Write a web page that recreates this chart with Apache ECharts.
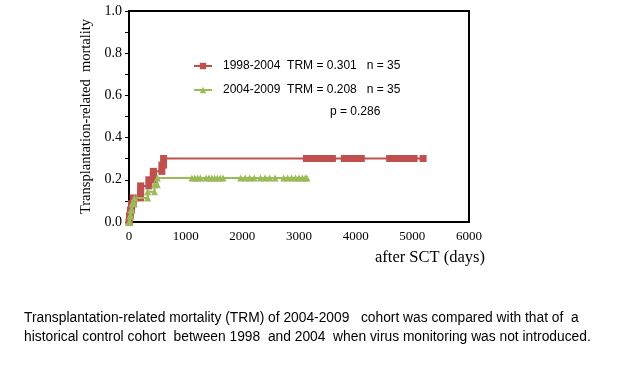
<!DOCTYPE html>
<html>
<head>
<meta charset="utf-8">
<script src="https://cdn.jsdelivr.net/npm/echarts@6/dist/echarts.min.js"></script>
<style>
html,body{margin:0;padding:0;background:#fff;}
#chart{width:636px;height:371px;}
</style>
</head>
<body>
<div id="chart"></div>
<script>
// ---- data ----
var seriesNames = ['1998-2004  TRM = 0.301   n = 35', '2004-2009  TRM = 0.208   n = 35'];
// red cohort: event days and cumulative TRM after each event
var redEventDays   = [8, 25, 45, 75, 205, 205, 350, 430, 430, 580, 610];
var redEventLevels = [0.029, 0.057, 0.086, 0.114, 0.143, 0.171, 0.200, 0.220, 0.240, 0.270, 0.301];
var redCensorDays  = [3130, 3180, 3230, 3280, 3330, 3380, 3430, 3480, 3530, 3590,
                      3800, 3860, 3920, 3990, 4050, 4100,
                      4600, 4670, 4740, 4810, 4870, 4920, 5030, 5190];
// green cohort
var greenEventDays   = [15, 35, 55, 95, 330, 450, 500];
var greenEventLevels = [0.029, 0.057, 0.086, 0.114, 0.143, 0.176, 0.208];
var greenCensorDays  = [1110, 1160, 1210, 1260, 1360, 1410, 1460, 1510, 1560, 1610, 1660,
                        1970, 2050, 2130, 2210,
                        2320, 2400, 2480, 2580,
                        2730, 2800, 2870, 2940, 3000, 3060, 3110, 3140];
var yTicks = [0, 0.2, 0.4, 0.6, 0.8, 1.0];
var xTicks = [0, 1000, 2000, 3000, 4000, 5000, 6000];
var pValueText = 'p = 0.286';
var xTitle = 'after SCT (days)';
var yTitle = 'Transplantation-related  mortality';
var captionLines = [
  'Transplantation-related mortality (TRM) of 2004-2009   cohort was compared with that of  a',
  'historical control cohort  between 1998  and 2004  when virus monitoring was not introduced.'
];

function buildSteps(days, levels, censor) {
  var pts = [[0, 0]];
  var prev = 0;
  for (var i = 0; i < days.length; i++) {
    pts.push([days[i], prev]);
    pts.push([days[i], levels[i]]);
    prev = levels[i];
  }
  for (var j = 0; j < censor.length; j++) pts.push([censor[j], prev]);
  return pts;
}
var redData = buildSteps(redEventDays, redEventLevels, redCensorDays);
var greenData = buildSteps(greenEventDays, greenEventLevels, greenCensorDays);

var RED = '#C0504D', GREEN = '#9BBB59';
var serif = '"Liberation Serif","DejaVu Serif",serif';
var sansN = '"Liberation Sans Narrow","Liberation Sans","Noto Sans",sans-serif';

var chart = echarts.init(document.getElementById('chart'), null, {renderer: 'canvas'});
chart.setOption({
  animation: false,
  backgroundColor: '#fff',
  grid: {left: 129, right: 167, top: 11, bottom: 149, show: true, borderColor: '#000', borderWidth: 2, backgroundColor: 'transparent'},
  xAxis: {
    type: 'value', min: xTicks[0], max: xTicks[xTicks.length - 1], interval: 1000,
    axisLine: {show: true, lineStyle: {color: '#000', width: 2}},
    axisTick: {show: false},
    splitLine: {show: false},
    axisLabel: {color: '#000', fontFamily: serif, fontSize: 13, margin: 8,
      formatter: function (v) { return xTicks.indexOf(v) >= 0 ? String(v) : ''; }}
  },
  yAxis: {
    type: 'value', min: yTicks[0], max: yTicks[yTicks.length - 1], interval: 0.2,
    name: yTitle, nameLocation: 'middle', nameGap: 29,
    nameTextStyle: {color: '#000', fontFamily: serif, fontSize: 14.5},
    axisLine: {show: true, lineStyle: {color: '#000', width: 2}},
    axisTick: {show: true, inside: false, length: 4, lineStyle: {color: '#000'}},
    minorTick: {show: true, splitNumber: 2, length: 4, lineStyle: {color: '#000'}},
    splitLine: {show: false},
    axisLabel: {color: '#000', fontFamily: serif, fontSize: 14, margin: 7,
      formatter: function (v) { return v.toFixed(1); }}
  },
  legend: {
    orient: 'vertical', left: 188, top: 55, itemGap: 12, itemWidth: 18, itemHeight: 8,
    data: seriesNames,
    textStyle: {color: '#000', fontFamily: sansN, fontSize: 12, padding: [0, 0, 0, 6]}
  },
  graphic: [
    {type: 'text', left: 330, top: 106, style: {text: pValueText, fill: '#000', font: '12px ' + sansN}},
    {type: 'text', left: 375, top: 249, style: {text: xTitle, fill: '#000', font: '16.5px ' + serif}},
    {type: 'text', left: 24, top: 311, style: {text: captionLines[0], fill: '#000', font: '13.8px ' + sansN}},
    {type: 'text', left: 24, top: 330, style: {text: captionLines[1], fill: '#000', font: '13.8px ' + sansN}}
  ],
  series: [
    {name: seriesNames[0], type: 'line', data: redData, color: RED,
     symbol: 'rect', symbolSize: 7, showAllSymbol: true,
     lineStyle: {color: RED, width: 2}, itemStyle: {color: RED}, z: 3},
    {name: seriesNames[1], type: 'line', data: greenData, color: GREEN,
     symbol: 'triangle', symbolSize: 7, showAllSymbol: true,
     lineStyle: {color: GREEN, width: 2}, itemStyle: {color: GREEN}, z: 4}
  ]
});
</script>
</body>
</html>
